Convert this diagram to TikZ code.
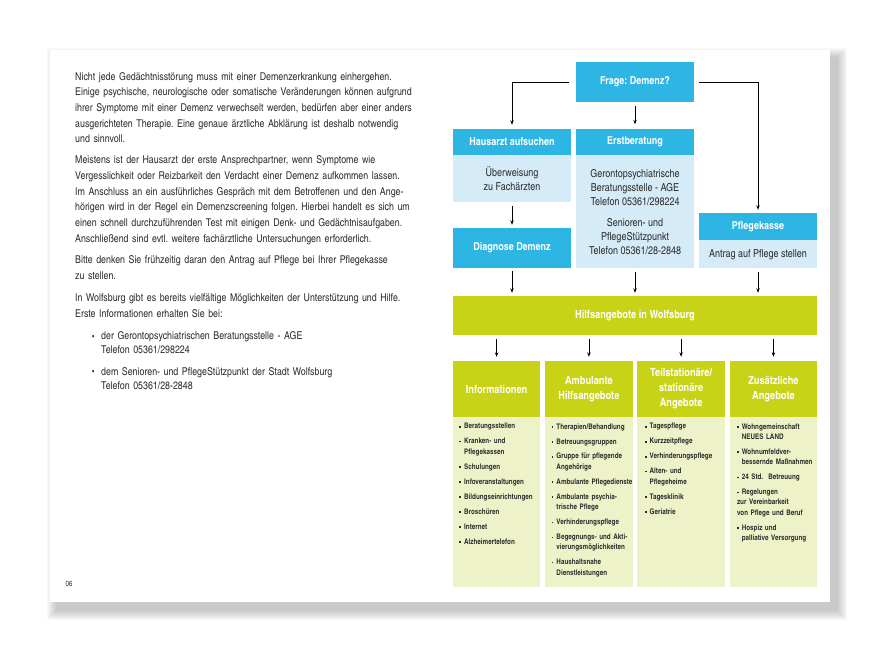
\documentclass[tikz,border=0pt]{standalone}
\usepackage{fontspec}
\setmainfont{texgyreheroscn}[Extension=.otf, UprightFont=*-regular, BoldFont=*-bold, ItalicFont=*-italic, BoldItalicFont=*-bolditalic]
\usetikzlibrary{arrows.meta,positioning,calc}
\frenchspacing

\definecolor{dzblue}{RGB}{45,181,228}
\definecolor{dzlightblue}{RGB}{214,235,248}
\definecolor{dzgreen}{RGB}{200,210,22}
\definecolor{dzlightgreen}{RGB}{237,242,200}
\definecolor{dztext}{RGB}{45,45,45}

\newcommand\lpunkt{\makebox[4.7bp][l]{\raisebox{1.4bp}{\rule{1.6bp}{1.6bp}}}}
\newcommand\leinzug{\hspace*{4.7bp}}
\newcommand\tpunkt{\hspace*{17bp}\makebox[9bp][l]{\raisebox{0.6bp}{\footnotesize\textbullet}}}

\tikzset{
  headblue/.style={fill=dzblue,text=white,font=\fontsize{11}{14}\selectfont\bfseries,
    minimum width=118bp,inner sep=0,align=center},
  bodyblue/.style={fill=dzlightblue,text=dztext,font=\fontsize{11}{14.2}\selectfont,
    minimum width=118bp,inner sep=0,align=center},
  headgreen/.style={fill=dzgreen,text=white,font=\fontsize{11.3}{15}\selectfont\bfseries,
    inner sep=0,align=center},
  bodygreen/.style={fill=dzlightgreen,inner sep=0},
  liste/.style={anchor=north west,text width=82bp,align=left,inner sep=0,
    font=\fontsize{7.7}{10.4}\selectfont\bfseries,text=dztext},
  arr/.style={-{Stealth[length=4.5bp,width=3.4bp]},line width=0.8bp,black}
}

\begin{document}
\begin{tikzpicture}[x=1bp,y=-1bp]
\useasboundingbox (0,0) rectangle (880,652);

% page with shadow
\foreach \s in {1,...,10}
  \fill[black,opacity=0.025] (57-\s,58-\s) rectangle (837+\s,610+\s);
\fill[white] (50,50) rectangle (830,602);

% left column text
\node[anchor=north west,inner sep=0,text width=400bp,align=left,text=dztext,
  font=\fontsize{10.8}{15.7}\selectfont] (intro) at (75,72) {%
Nicht jede Gedächtnisstörung muss mit einer Demenzerkrankung einhergehen.\\
Einige psychische, neurologische oder somatische Veränderungen können aufgrund\\
ihrer Symptome mit einer Demenz verwechselt werden, bedürfen aber einer anders\\
ausgerichteten Therapie. Eine genaue ärztliche Abklärung ist deshalb notwendig\\
und sinnvoll.\\[5.5bp]
Meistens ist der Hausarzt der erste Ansprechpartner, wenn Symptome wie\\
Vergesslichkeit oder Reizbarkeit den Verdacht einer Demenz aufkommen lassen.\\
Im Anschluss an ein ausführliches Gespräch mit dem Betroffenen und den Ange-\\
hörigen wird in der Regel ein Demenzscreening folgen. Hierbei handelt es sich um\\
einen schnell durchzuführenden Test mit einigen Denk- und Gedächtnisaufgaben.\\
Anschließend sind evtl. weitere fachärztliche Untersuchungen erforderlich.\\[6bp]
Bitte denken Sie frühzeitig daran den Antrag auf Pflege bei Ihrer Pflegekasse\\
zu stellen.\\[7bp]
In Wolfsburg gibt es bereits vielfältige Möglichkeiten der Unterstützung und Hilfe.\\
Erste Informationen erhalten Sie bei:\\[6.5bp]
\tpunkt der Gerontopsychiatrischen Beratungsstelle - AGE\\[-1.5bp]
\hspace*{26bp}Telefon 05361/298224\\[5.5bp]
\tpunkt dem Senioren- und PflegeStützpunkt der Stadt Wolfsburg\\[-1.5bp]
\hspace*{26bp}Telefon 05361/28-2848};

\node[anchor=center,font=\fontsize{7.5}{9}\selectfont,text=dztext] (seite) at (69,584) {06};

% upper part
\node[headblue,minimum height=40bp] (frage) at (635,82) {Frage: Demenz?};

\node[headblue,minimum height=26bp] (haus) at (512,142) {Hausarzt aufsuchen};
\node[bodyblue,minimum height=47bp,below=0pt of haus] (hausbody) {Überweisung\\zu Fachärzten};
\node[headblue,minimum height=40bp] (diag) at (512,248) {Diagnose Demenz};

\node[headblue,minimum height=26bp] (erst) at (635,142) {Erstberatung};
\node[bodyblue,minimum height=113bp,below=0pt of erst] (erstbody) {Gerontopsychiatrische\\
  Beratungsstelle - AGE\\Telefon 05361/298224\\[6.5bp]Senioren- und\\PflegeStützpunkt\\Telefon 05361/28-2848};

\node[headblue,minimum height=27bp] (pflege) at (758,226.5) {Pflegekasse};
\node[bodyblue,minimum height=28bp,below=0pt of pflege] (pflegebody) {Antrag auf Pflege stellen};

\draw[arr,shorten <=7bp,shorten >=4bp] (frage.west) -| (haus.north);
\draw[arr,shorten <=5bp,shorten >=3bp] (frage.east) -| (pflege.north);
\draw[arr,shorten <=4bp,shorten >=4.5bp] (frage.south) -- (erst.north);
\draw[arr,shorten <=3bp,shorten >=3bp] (hausbody.south) -- (diag.north);

% Hilfsangebote
\node[headgreen,minimum width=364bp,minimum height=39bp] (hilfs) at (635,315.5) {Hilfsangebote in Wolfsburg};

\draw[arr,shorten <=3bp,shorten >=3bp] (diag.south) -- (diag.south |- hilfs.north);
\draw[arr,shorten <=3bp,shorten >=3bp] (erstbody.south) -- (erstbody.south |- hilfs.north);
\draw[arr,shorten <=3bp,shorten >=3bp] (pflegebody.south) -- (pflegebody.south |- hilfs.north);

\foreach \name/\cx/\title in {info/496.6/{Informationen}, ambu/588.9/{Ambulante\\Hilfsangebote},
    teil/681.1/{Teilstationäre/\\stationäre\\Angebote}, zusatz/773.4/{Zusätzliche\\Angebote}}
{
  \node[headgreen,minimum width=87.25bp,minimum height=56bp] (\name) at (\cx,389) {\title};
  \node[bodygreen,minimum width=87.25bp,minimum height=170bp,below=0pt of \name] (\name-body) {};
  \draw[arr,shorten <=4bp,shorten >=4bp] (\name.north |- hilfs.south) -- (\name.north);
}

\node[liste] (infoliste) at ($(info-body.north west)+(6.5,6)$) {%
\lpunkt Beratungsstellen\\[4.6bp]
\lpunkt Kranken- und\\\leinzug Pflegekassen\\[4.6bp]
\lpunkt Schulungen\\[4.6bp]
\lpunkt Infoveranstaltungen\\[4.6bp]
\lpunkt Bildungseinrichtungen\\[4.6bp]
\lpunkt Broschüren\\[4.6bp]
\lpunkt Internet\\[4.6bp]
\lpunkt Alzheimertelefon};

\node[liste] (ambuliste) at ($(ambu-body.north west)+(6.5,6)$) {%
\lpunkt Therapien/Behandlung\\[4.6bp]
\lpunkt Betreuungsgruppen\\[4.6bp]
\lpunkt Gruppe für pflegende\\\leinzug Angehörige\\[4.6bp]
\lpunkt Ambulante Pflegedienste\\[4.6bp]
\lpunkt Ambulante psychia-\\\leinzug trische Pflege\\[4.6bp]
\lpunkt Verhinderungspflege\\[4.6bp]
\lpunkt Begegnungs- und Akti-\\\leinzug vierungsmöglichkeiten\\[4.6bp]
\lpunkt Haushaltsnahe\\\leinzug Dienstleistungen};

\node[liste] (teilliste) at ($(teil-body.north west)+(7.5,6)$) {%
\lpunkt Tagespflege\\[4.6bp]
\lpunkt Kurzzeitpflege\\[4.6bp]
\lpunkt Verhinderungspflege\\[4.6bp]
\lpunkt Alten- und\\\leinzug Pflegeheime\\[4.6bp]
\lpunkt Tagesklinik\\[4.6bp]
\lpunkt Geriatrie};

\node[liste] (zusatzliste) at ($(zusatz-body.north west)+(7.3,6)$) {%
\lpunkt Wohngemeinschaft\\\leinzug NEUES LAND\\[4.6bp]
\lpunkt Wohnumfeldver-\\\leinzug bessernde Maßnahmen\\[4.6bp]
\lpunkt 24 Std.\ \ Betreuung\\[4.6bp]
\lpunkt Regelungen\\zur Vereinbarkeit\\von Pflege und Beruf\\[4.6bp]
\lpunkt Hospiz und\\\leinzug palliative Versorgung};

\end{tikzpicture}
\end{document}
